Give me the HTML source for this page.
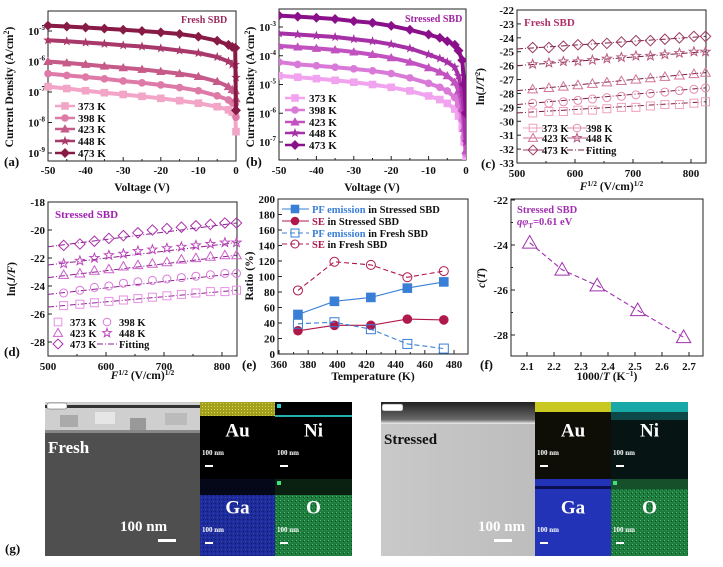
<!DOCTYPE html>
<html><head><meta charset="utf-8"><style>
html,body{margin:0;padding:0;background:#fff;}
svg{display:block;font-family:"Liberation Serif",serif;font-weight:bold;}
</style></head><body>
<svg id="fig" width="723" height="567" viewBox="0 0 723 567" xmlns="http://www.w3.org/2000/svg">
<defs>
<linearGradient id="stressTop" x1="0" y1="0" x2="0" y2="1"><stop offset="0" stop-color="#222"/><stop offset="0.8" stop-color="#6a6a6a"/><stop offset="1" stop-color="#f2f2f2"/></linearGradient>
<linearGradient id="stressBody" x1="0" y1="0" x2="1" y2="0"><stop offset="0" stop-color="#c9c9c9"/><stop offset="1" stop-color="#bdbdbd"/></linearGradient>
<pattern id="noiseG" width="4" height="4" patternUnits="userSpaceOnUse"><rect width="4" height="4" fill="#1f7a3e"/><rect x="0" y="0" width="1" height="1" fill="#3fbf6a"/><rect x="2" y="2" width="1" height="1" fill="#2aa055"/><rect x="3" y="1" width="1" height="1" fill="#0d4a22"/></pattern>
<pattern id="noiseB" width="4" height="4" patternUnits="userSpaceOnUse"><rect width="4" height="4" fill="#1e2c9a"/><rect x="1" y="1" width="1" height="1" fill="#3448d0"/><rect x="3" y="3" width="1" height="1" fill="#101870"/></pattern>
<pattern id="noiseY" width="3" height="3" patternUnits="userSpaceOnUse"><rect width="3" height="3" fill="#a3a020"/><rect x="1" y="1" width="1" height="1" fill="#d8d840"/></pattern>
</defs>
<g id="root"></g>
</svg>
<script>
// ---------- DATA ----------
const aVolt = [-50,-45,-40,-35,-30,-25,-20,-15,-10,-5,-2,-1,-0.2,0];
const aTemps = ['373 K','398 K','423 K','448 K','473 K'];
const a373 = [1.5e-7,1.3e-7,1.1e-7,9.5e-8,8.3e-8,7.2e-8,6.2e-8,5.2e-8,4.3e-8,3.3e-8,2.6e-8,2.2e-8,2e-8,5e-9];
const a398 = [4e-7,3.5e-7,3.1e-7,2.7e-7,2.3e-7,2e-7,1.7e-7,1.4e-7,1.1e-7,7.5e-8,5.5e-8,4.5e-8,4e-8,1.5e-8];
const a423 = [1e-6,9e-7,8e-7,7e-7,6.2e-7,5.5e-7,4.7e-7,4e-7,3.2e-7,2.2e-7,1.5e-7,1.2e-7,1.1e-7,6e-8];
const a448 = [5e-6,4.6e-6,4.2e-6,3.8e-6,3.4e-6,3.1e-6,2.7e-6,2.3e-6,1.9e-6,1.4e-6,1.0e-6,8e-7,8e-7,3e-7];
const a473 = [1.5e-5,1.4e-5,1.3e-5,1.2e-5,1.1e-5,1.0e-5,9e-6,8e-6,6.5e-6,4.8e-6,3.5e-6,3e-6,2.8e-6,2.5e-8];
const bVolt = [-50,-45,-40,-35,-30,-25,-20,-15,-10,-7,-5,-3,-2,-1,-0.5,0];
const b373 = [2e-5,1.8e-5,1.6e-5,1.4e-5,1.2e-5,1e-5,8e-6,6e-6,4e-6,3e-6,2.2e-6,1.4e-6,8e-7,3e-7,1e-7,3e-8];
const b398 = [6e-5,5e-5,4.5e-5,4e-5,3.5e-5,3e-5,2.4e-5,1.7e-5,1.1e-5,8e-6,6e-6,3.5e-6,2e-6,6e-7,1.5e-7,4e-8];
const b423 = [2.2e-4,2e-4,1.8e-4,1.6e-4,1.35e-4,1.1e-4,8.5e-5,6e-5,3.8e-5,2.7e-5,2e-5,1.2e-5,6e-6,1.5e-6,3e-7,5e-8];
const b448 = [6e-4,5.5e-4,5e-4,4.5e-4,3.8e-4,3.2e-4,2.5e-4,1.8e-4,1.1e-4,8e-5,6e-5,4e-5,2e-5,5e-6,1e-6,1e-7];
const b473 = [2.5e-3,2.3e-3,2.1e-3,1.9e-3,1.6e-3,1.4e-3,1.1e-3,8e-4,5.5e-4,4.2e-4,3.2e-4,2.4e-4,1.5e-4,7e-5,1e-5,1e-6];
const fieldX = [500,527,555,580,605,630,655,680,705,730,755,780,805,825];
const c373 = [-29.4,-29.4,-29.3,-29.3,-29.2,-29.2,-29.1,-29.0,-29.0,-28.9,-28.8,-28.8,-28.7,-28.6];
const c398 = [-28.8,-28.7,-28.7,-28.6,-28.5,-28.4,-28.3,-28.2,-28.1,-28.0,-27.9,-27.8,-27.7,-27.6];
const c423 = [-27.8,-27.7,-27.6,-27.5,-27.4,-27.3,-27.2,-27.1,-27.0,-26.9,-26.8,-26.7,-26.6,-26.5];
const c448 = [-26.0,-25.9,-25.8,-25.7,-25.7,-25.6,-25.5,-25.4,-25.3,-25.3,-25.2,-25.1,-25.0,-25.0];
const c473 = [-24.8,-24.7,-24.7,-24.6,-24.5,-24.5,-24.4,-24.3,-24.2,-24.2,-24.1,-24.0,-23.9,-23.9];
const d373 = [-25.5,-25.4,-25.3,-25.2,-25.1,-25.0,-24.9,-24.8,-24.7,-24.6,-24.5,-24.4,-24.4,-24.3];
const d398 = [-24.6,-24.5,-24.3,-24.1,-24.0,-23.8,-23.7,-23.6,-23.5,-23.4,-23.3,-23.2,-23.1,-23.1];
const d423 = [-23.4,-23.2,-23.1,-22.9,-22.8,-22.6,-22.5,-22.4,-22.3,-22.1,-22.0,-21.9,-21.8,-21.8];
const d448 = [-22.5,-22.4,-22.2,-22.0,-21.8,-21.7,-21.5,-21.4,-21.3,-21.2,-21.1,-21.0,-20.9,-20.9];
const d473 = [-21.2,-21.1,-21.0,-20.8,-20.6,-20.4,-20.2,-20.0,-19.9,-19.8,-19.7,-19.6,-19.5,-19.5];
const eTemp = [373,398,423,448,473];
const ePFStressed = [51,68,73,85,93];
const eSEStressed = [30,37,37,45,44];
const ePFFresh = [39,41,32,13,7];
const eSEFresh = [82,119,115,99,107];
const fInvT = [2.11,2.23,2.36,2.51,2.68];
const fC = [-23.9,-25.1,-25.8,-26.9,-28.1];

// ---------- helpers ----------
const NS='http://www.w3.org/2000/svg';
const root=document.getElementById('root');
function el(tag,attrs,parent,text){const e=document.createElementNS(NS,tag);for(const k in attrs)e.setAttribute(k,attrs[k]);if(text!==undefined)e.textContent=text;(parent||root).appendChild(e);return e;}
function lin(d0,d1,r0,r1){return v=>r0+(v-d0)*(r1-r0)/(d1-d0);}
function logS(d0,d1,r0,r1){return v=>r0+(Math.log10(v)-d0)*(r1-r0)/(d1-d0);}
function marker(g,type,x,y,s,col,fill){
  let e;
  if(type==='sq'){e=el('rect',{x:x-s,y:y-s,width:2*s,height:2*s},g);}
  else if(type==='ci'){e=el('circle',{cx:x,cy:y,r:s},g);}
  else if(type==='tr'){e=el('polygon',{points:`${x},${y-s*1.2} ${x-s*1.2},${y+s*0.9} ${x+s*1.2},${y+s*0.9}`},g);}
  else if(type==='di'){e=el('polygon',{points:`${x},${y-s*1.3} ${x+s*1.3},${y} ${x},${y+s*1.3} ${x-s*1.3},${y}`},g);}
  else {let p=[];for(let i=0;i<10;i++){const r=i%2?s*0.5:s*1.2;const a=-Math.PI/2+i*Math.PI/5;p.push((x+r*Math.cos(a)).toFixed(1)+','+(y+r*Math.sin(a)).toFixed(1));}e=el('polygon',{points:p.join(' ')},g);}
  e.setAttribute('fill',fill?col:'none');e.setAttribute('stroke',col);e.setAttribute('stroke-width',fill?0.6:1);
  
  
  return e;
}
function frame(name,x0,y0,x1,y1){const g=el('g',{});el('rect',{x:x0,y:y0,width:x1-x0,height:y1-y0,fill:'none',stroke:'#222','stroke-width':1},g);return g;}
function txt(x,y,s,opts,g){const t=el('text',Object.assign({x:x,y:y,'font-size':11,fill:'#111'},opts||{}),g,s);return t;}
function xticks(g,vals,sx,y1,labelY,minorVals){vals.forEach(v=>{const x=sx(v);el('line',{x1:x,x2:x,y1:y1,y2:y1-4,stroke:'#222'},g);const t=txt(x,labelY,String(v),{'text-anchor':'middle','font-size':11},g);});(minorVals||[]).forEach(v=>{const x=sx(v);el('line',{x1:x,x2:x,y1:y1,y2:y1-2,stroke:'#222'},g);});}
function yticks(g,vals,sy,x0,fmt){vals.forEach(v=>{const y=sy(v);el('line',{x1:x0,x2:x0+4,y1:y,y2:y,stroke:'#222'},g);const t=txt(x0-3,y+4,fmt?fmt(v):String(v),{'text-anchor':'end','font-size':11},g);});}
function logYTicks(g,exps,sy,x0){exps.forEach(e=>{const y=sy(Math.pow(10,e));el('line',{x1:x0,x2:x0+4,y1:y,y2:y,stroke:'#222'},g);const t=el('text',{x:x0-3,y:y+4,'font-size':11,'text-anchor':'end',fill:'#111'},g);const a=el('tspan',{},t,'10');const b=el('tspan',{dy:-5,'font-size':7},t,String(e));});}
function panelLabel(x,y,s){const t=txt(x,y,s,{'font-size':13});}
function yTitle(x,y,s,g){const t=el('text',{x:0,y:0,'font-size':11.5,'text-anchor':'middle',fill:'#111',transform:`translate(${x},${y}) rotate(-90)`},g,s);return t;}
function xTitle(x,y,s,g){const t=txt(x,y,s,{'text-anchor':'middle','font-size':11.5},g);return t;}
function pathD(xs,ys,sx,sy){return xs.map((v,i)=>(i?'L':'M')+sx(v).toFixed(1)+','+sy(ys[i]).toFixed(1)).join(' ');}

// ---------- Panel (a) ----------
(function(){
  const x0=48,x1=236,y0=11,y1=161;
  const sx=lin(-50,0,x0,x1), sy=logS(-5,-9,31,153);
  const g=frame('panel-a-iv-fresh',x0,y0,x1,y1);
  xticks(g,[-50,-40,-30,-20,-10,0],sx,y1,174,[-45,-35,-25,-15,-5]);
  logYTicks(g,[-5,-6,-7,-8,-9],sy,x0);
  const cols=['#f2a5c6','#de7aa7','#c65a89','#a8396a','#881a46'];
  const types=['sq','ci','tr','st','di'];
  const ser=[a373,a398,a423,a448,a473];
  ser.forEach((s,k)=>{
    const p=el('path',{d:pathD(aVolt,s,sx,sy),fill:'none',stroke:cols[k],'stroke-width':4},g);
    
    
    aVolt.forEach((v,i)=>marker(g,types[k],sx(v),sy(s[i]),3.5,cols[k],true));
  });
  const ly=[106,118,129,141,153];
  aTemps.forEach((t,k)=>{el('line',{x1:55,x2:75,y1:ly[k],y2:ly[k],stroke:cols[k],'stroke-width':2.5},g);marker(g,types[k],65,ly[k],3.5,cols[k],true);const tt=txt(78,ly[k]+4,t,{'font-size':11},g);});
  const tl=txt(181,23,'Fresh SBD',{'font-size':10,fill:'#9c2a5e'},g);
  xTitle(142,191,'Voltage (V)',g);
  const yt=yTitle(13,87,'',g);el('tspan',{},yt,'Current Density (A/cm');el('tspan',{dy:-4,'font-size':8},yt,'2');el('tspan',{dy:4},yt,')');
  panelLabel(4,166,'(a)');
})();

// ---------- Panel (b) ----------
(function(){
  const x0=279,x1=466,y0=9,y1=160;
  const sx=lin(-50,0,x0,x1), sy=logS(-3,-7,27,142);
  const g=frame('panel-b-iv-stressed',x0,y0,x1,y1);
  xticks(g,[-50,-40,-30,-20,-10,0],sx,y1,174,[-45,-35,-25,-15,-5]);
  logYTicks(g,[-3,-4,-5,-6,-7],sy,x0);
  const cols=['#f2a3f0','#d97ad8','#c152c0','#a630a6','#8a0f8a'];
  const types=['sq','ci','tr','st','di'];
  const ser=[b373,b398,b423,b448,b473];
  const cp=el('clipPath',{id:'clipb'},g);el('rect',{x:x0,y:y0,width:x1-x0,height:y1-y0},cp);
  const gg=el('g',{'clip-path':'url(#clipb)'},g);
  ser.forEach((s,k)=>{
    const p=el('path',{d:pathD(bVolt,s,sx,sy),fill:'none',stroke:cols[k],'stroke-width':4},gg);
    
    
    bVolt.forEach((v,i)=>marker(gg,types[k],sx(v),sy(s[i]),3.5,cols[k],true));
  });
  const ly=[98,110,122,133,145];
  aTemps.forEach((t,k)=>{el('line',{x1:285,x2:305,y1:ly[k],y2:ly[k],stroke:cols[k],'stroke-width':2.5},g);marker(g,types[k],295,ly[k],3.5,cols[k],true);const tt=txt(309,ly[k]+4,t,{'font-size':11},g);});
  const tl=txt(405,22,'Stressed SBD',{'font-size':10,fill:'#a020a0'},g);
  xTitle(372,191,'Voltage (V)',g);
  const yt=yTitle(254,87,'',g);el('tspan',{},yt,'Current Density (A/cm');el('tspan',{dy:-4,'font-size':8},yt,'2');el('tspan',{dy:4},yt,')');
  panelLabel(246,166,'(b)');
})();

// ---------- Panel (c)/(d) helper ----------
function fieldPanel(opts){
  const {x0,x1,y0,y1,ymin,ymax,yt,series,cols,name,title,titleCol,legY,legX,fitCol,ylab,label,labelPos,xlabY}=opts;
  const sx=lin(500,500+(x1-x0)*(300/opts.px300),x0,x1), sy=lin(ymin,ymax,y1,y0);
  const g=frame(name,x0,y0,x1,y1);
  xticks(g,[500,600,700,800],sx,y1,y1+14,[550,650,750]);
  yticks(g,yt,sy,x0);
  const types=['sq','ci','tr','st','di'];
  series.forEach((s,k)=>{
    const n=s.length-1;
    const f=el('line',{x1:sx(fieldX[0]),y1:sy(s[0]),x2:sx(fieldX[n]),y2:sy(s[n]),stroke:fitCol,'stroke-width':1,'stroke-dasharray':'6,2,1,2'},g);
    
    
    fieldX.forEach((v,i)=>{if(i>0)marker(g,types[k],sx(v),sy(s[i]),4,cols[k],false);});
  });
  const names=['373 K','398 K','423 K','448 K','473 K','Fitting'];
  names.forEach((t,k)=>{
    const col=k%2, row=Math.floor(k/2);
    const mx=legX[col], y=legY[row];
    if(opts.legLines) el('line',{x1:mx-10,x2:mx+10,y1:y,y2:y,stroke:k<5?cols[k]:fitCol,'stroke-width':1,'stroke-dasharray':k<5?'':'6,2,1,2'},g);
    else if(k===5) el('line',{x1:mx-10,x2:mx+10,y1:y,y2:y,stroke:fitCol,'stroke-width':1,'stroke-dasharray':'6,2,1,2'},g);
    if(k<5) marker(g,types[k],mx,y,3.8,cols[k],false);
    const tt=txt(mx+opts.textOff,y+4,t,{'font-size':10.5},g);
  });
  const tl=txt(x0+7,y0+16,title,{'font-size':11,fill:titleCol},g);
  const xt=xTitle((x0+x1)/2,xlabY,'',g);el('tspan',{'font-style':'italic'},xt,'F');el('tspan',{dy:-4,'font-size':7.5},xt,'1/2');el('tspan',{dy:4},xt,' (V/cm)');el('tspan',{dy:-4,'font-size':7.5},xt,'1/2');
  const yy=yTitle(x0-33,(y0+y1)/2,'',g);ylab(yy);
  panelLabel(labelPos[0],labelPos[1],label);
}
fieldPanel({x0:517,x1:706,y0:10,y1:163,ymin:-33,ymax:-22,yt:[-22,-23,-24,-25,-26,-27,-28,-29,-30,-31,-32,-33],px300:174,
  series:[c373,c398,c423,c448,c473],cols:['#f0a0be','#e48cb0','#d0759a','#b85a80','#9c3c66'],fitCol:'#7a2040',
  name:'panel-c-fresh-fitting',title:'Fresh SBD',titleCol:'#b0306a',legY:[128,138,150],legX:[533,577],textOff:9,legLines:true,
  ylab:t=>{el('tspan',{},t,'ln(');el('tspan',{'font-style':'italic'},t,'J/T');el('tspan',{dy:-4,'font-size':7.5},t,'2');el('tspan',{dy:4},t,')');},
  label:'(c)',labelPos:[481,168],xlabY:190});
fieldPanel({x0:48,x1:237,y0:202,y1:356,ymin:-29,ymax:-18,yt:[-18,-20,-22,-24,-26,-28],px300:174,
  series:[d373,d398,d423,d448,d473],cols:['#e890e6','#da78d8','#cc60ca','#bb48ba','#aa30aa'],fitCol:'#8a2090',
  name:'panel-d-stressed-fitting',title:'Stressed SBD',titleCol:'#a020b0',legY:[322,333,344],legX:[58,107],textOff:12,legLines:false,
  ylab:t=>{el('tspan',{},t,'ln(');el('tspan',{'font-style':'italic'},t,'J/F');el('tspan',{},t,')');},
  label:'(d)',labelPos:[4,356],xlabY:379});

// ---------- Panel (e) ----------
(function(){
  const x0=278,x1=468,y0=199,y1=354;
  const sx=lin(360,490,279,468.6), sy=lin(0,200,y1,y0);
  const g=frame('panel-e-ratio',x0,y0,x1,y1);
  xticks(g,[360,380,400,420,440,460,480],sx,y1,y1+14,[370,390,410,430,450,470]);
  yticks(g,[0,20,40,60,80,100,120,140,160,180,200],sy,x0);
  const blue='#3a7fd6', red='#b0184a';
  const ser=[[ePFStressed,blue,'sq',true,'','pf-stressed'],[eSEStressed,red,'ci',true,'','se-stressed'],[ePFFresh,blue,'sq',false,'5,3','pf-fresh'],[eSEFresh,red,'ci',false,'5,3','se-fresh']];
  ser.forEach(([d,c,t,f,da,n])=>{
    const p=el('path',{d:pathD(eTemp,d,sx,sy),fill:'none',stroke:c,'stroke-width':1.1,'stroke-dasharray':da},g);
    
    
    eTemp.forEach((v,i)=>marker(g,t,sx(v),sy(d[i]),4.5,c,f));
  });
  const ly=[209,221,233,244];
  const labs=[['PF emission',' in Stressed SBD',blue,'sq',true,''],['SE',' in Stressed SBD',red,'ci',true,''],['PF emission',' in Fresh SBD',blue,'sq',false,'5,3'],['SE',' in Fresh SBD',red,'ci',false,'5,3']];
  labs.forEach(([a,b,c,t,f,da],k)=>{el('line',{x1:282,x2:309,y1:ly[k],y2:ly[k],stroke:c,'stroke-width':1.1,'stroke-dasharray':da},g);marker(g,t,295,ly[k],4,c,f);const tt=el('text',{x:312,y:ly[k]+4,'font-size':10.5,fill:'#111'},g);el('tspan',{fill:c},tt,a);el('tspan',{},tt,b);});
  xTitle(373,380,'Temperature (K)',g);
  yTitle(253,276,'Ratio (%)',g);
  panelLabel(242,369,'(e)');
})();

// ---------- Panel (f) ----------
(function(){
  const x0=511,x1=703,y0=199,y1=356;
  const sx=lin(2.1,2.7,527,689), sy=lin(-22,-29,200,357.5);
  const g=frame('panel-f-c-vs-invT',x0,y0,x1,y1);
  xticks(g,[2.1,2.2,2.3,2.4,2.5,2.6,2.7],sx,y1,y1+14);
  yticks(g,[-22,-24,-26,-28],sy,x0);
  [-23,-25,-27].forEach(v=>el('line',{x1:x0,x2:x0+2,y1:sy(v),y2:sy(v),stroke:'#222'},g));
  const col='#a030b0';
  const p=el('path',{d:pathD(fInvT,fC,sx,sy),fill:'none',stroke:col,'stroke-width':1.1,'stroke-dasharray':'5,3'},g);
  
  
  fInvT.forEach((v,i)=>marker(g,'tr',sx(v),sy(fC[i]),6,col,false));
  const t1=txt(517,213,'Stressed SBD',{'font-size':10.5,fill:col},g);
  const t2=el('text',{x:517,y:225,'font-size':10.5,fill:col},g);el('tspan',{'font-style':'italic'},t2,'qφ');el('tspan',{dy:3,'font-size':7},t2,'T');el('tspan',{dy:-3},t2,'=0.61 eV');
  const xt=xTitle(607,380,'',g);el('tspan',{},xt,'1000/');el('tspan',{'font-style':'italic'},xt,'T');el('tspan',{},xt,' (K');el('tspan',{dy:-4,'font-size':7.5},xt,'−1');el('tspan',{dy:4},xt,')');
  const yy=yTitle(485,278,'',g);el('tspan',{'font-style':'italic'},yy,'c');el('tspan',{},yy,'(');el('tspan',{'font-style':'italic'},yy,'T');el('tspan',{},yy,')');
  panelLabel(480,369,'(f)');
})();

// ---------- Panel (g) images ----------
function eds(g,x,y,w,h,label,bgTop,bgBot,splitY,extra){
  el('rect',{x:x,y:y,width:w,height:h,fill:bgBot},g);
  if(bgTop) el('rect',{x:x,y:y,width:w,height:splitY-y,fill:bgTop},g);
  if(extra) extra(g);
  const t=txt(x+w/2,y+h*0.45,label,{'font-size':19,fill:'#fff','text-anchor':'middle'},g);
  
  const s=txt(x+2,y+h-24,'100 nm',{'font-size':7,fill:'#fff'},g);
  el('rect',{x:x+5,y:y+h-14,width:8,height:2,fill:'#fff'},g);
}
(function(){
  const g=el('g',{});
  el('rect',{x:45,y:402,width:155,height:154,fill:'#4f4f4f'},g);
  el('rect',{x:45,y:402,width:155,height:31,fill:'#cfcfcf'},g);
  el('rect',{x:45,y:405,width:155,height:3,fill:'#333'},g);
  [[60,415,18,'#aaa'],[95,412,20,'#e6e6e6'],[130,418,16,'#999'],[165,413,22,'#bbb']].forEach(([a,b,c,d])=>el('rect',{x:a,y:b,width:c,height:12,fill:d},g));
  el('rect',{x:45,y:430,width:155,height:3,fill:'#888'},g);
  el('rect',{x:47,y:403,width:20,height:6,fill:'#fff',stroke:'#555','stroke-width':0.5,rx:2},g);
  const f=txt(48,453,'Fresh',{'font-size':17,fill:'#fff'},g);
  txt(120,531,'100 nm',{'font-size':15,fill:'#fff'},g);
  el('rect',{x:158,y:539,width:18,height:3,fill:'#fff'},g);
  eds(g,200,402,75,77,'Au','#000','#000',402,gg=>{el('rect',{x:200,y:402,width:75,height:14,fill:'url(#noiseY)'},gg);});
  eds(g,275,402,77,77,'Ni','#000','#000',402,gg=>{el('rect',{x:275,y:415,width:77,height:2,fill:'#20b0b0'},gg);el('rect',{x:277,y:404,width:4,height:4,fill:'#30d0d0'},gg);});
  eds(g,200,479,75,77,'Ga',null,'url(#noiseB)',479,gg=>{el('rect',{x:200,y:479,width:75,height:16,fill:'#050818'},gg);});
  eds(g,275,479,77,77,'O',null,'url(#noiseG)',479,gg=>{el('rect',{x:275,y:479,width:77,height:16,fill:'#0a2010'},gg);el('rect',{x:277,y:481,width:4,height:4,fill:'#40e080'},gg);});
  panelLabel(5,553,'(g)');
})();
(function(){
  const g=el('g',{});
  el('rect',{x:381,y:402,width:154,height:154,fill:'url(#stressBody)'},g);
  el('rect',{x:381,y:402,width:154,height:22,fill:'url(#stressTop)'},g);
  el('rect',{x:382,y:404,width:21,height:7,fill:'#fff',stroke:'#555','stroke-width':0.5,rx:2},g);
  const s=txt(384,444,'Stressed',{'font-size':15,fill:'#111'},g);
  txt(478,531,'100 nm',{'font-size':15,fill:'#fff'},g);
  el('rect',{x:494,y:539,width:18,height:3,fill:'#fff'},g);
  eds(g,535,402,76,77,'Au','#000','#0e0e06',402,gg=>{el('rect',{x:535,y:402,width:76,height:10,fill:'#c8c820'},gg);});
  eds(g,611,402,77,77,'Ni','#000','#061414',402,gg=>{el('rect',{x:611,y:402,width:77,height:10,fill:'#18a8a8'},gg);el('rect',{x:611,y:412,width:77,height:8,fill:'#0c4848'},gg);});
  eds(g,535,479,76,77,'Ga',null,'#2233b8',479,gg=>{el('rect',{x:535,y:486,width:76,height:3,fill:'#0a1050'},gg);});
  eds(g,611,479,77,77,'O',null,'url(#noiseG)',479,gg=>{el('rect',{x:611,y:479,width:77,height:10,fill:'#15502a'},gg);el('rect',{x:613,y:481,width:4,height:4,fill:'#40e080'},gg);});
})();
</script>
</body></html>
